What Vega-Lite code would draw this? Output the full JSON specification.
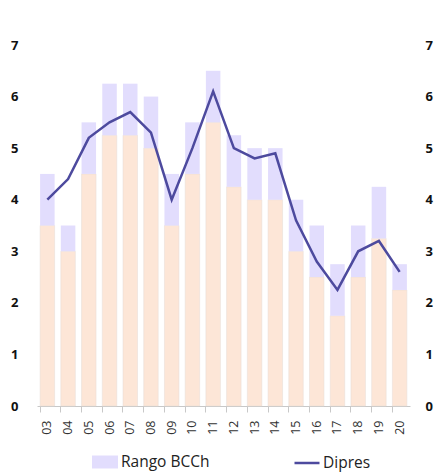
{
  "$schema": "https://vega.github.io/schema/vega-lite/v6.json",
  "autosize": "none",
  "width": 373,
  "height": 361,
  "padding": {"left": 37, "top": 45, "right": 26, "bottom": 66},
  "background": "white",
  "config": {
    "view": {"stroke": null},
    "font": "Open Sans",
    "axis": {"grid": false}
  },
  "data": {
    "values": [
      {"year": "03", "low": 3.5, "high": 4.5, "dipres": 4.0},
      {"year": "04", "low": 3.0, "high": 3.5, "dipres": 4.4},
      {"year": "05", "low": 4.5, "high": 5.5, "dipres": 5.2},
      {"year": "06", "low": 5.25, "high": 6.25, "dipres": 5.5},
      {"year": "07", "low": 5.25, "high": 6.25, "dipres": 5.7},
      {"year": "08", "low": 5.0, "high": 6.0, "dipres": 5.3},
      {"year": "09", "low": 3.5, "high": 4.5, "dipres": 4.0},
      {"year": "10", "low": 4.5, "high": 5.5, "dipres": 5.0},
      {"year": "11", "low": 5.5, "high": 6.5, "dipres": 6.1},
      {"year": "12", "low": 4.25, "high": 5.25, "dipres": 5.0},
      {"year": "13", "low": 4.0, "high": 5.0, "dipres": 4.8},
      {"year": "14", "low": 4.0, "high": 5.0, "dipres": 4.9},
      {"year": "15", "low": 3.0, "high": 4.0, "dipres": 3.6},
      {"year": "16", "low": 2.5, "high": 3.5, "dipres": 2.8},
      {"year": "17", "low": 1.75, "high": 2.75, "dipres": 2.25},
      {"year": "18", "low": 2.5, "high": 3.5, "dipres": 3.0},
      {"year": "19", "low": 3.25, "high": 4.25, "dipres": 3.2},
      {"year": "20", "low": 2.25, "high": 2.75, "dipres": 2.6}
    ]
  },
  "encoding": {
    "x": {
      "field": "year",
      "type": "ordinal",
      "sort": null,
      "scale": {"paddingInner": 0.3, "paddingOuter": 0.15},
      "axis": {
        "title": null,
        "labelAngle": -90,
        "labelFontSize": 12.5,
        "labelColor": "#333333",
        "labelPadding": 8,
        "domainColor": "#c8c8c8",
        "tickColor": "#c8c8c8",
        "tickSize": 6,
        "bandPosition": 0
      }
    }
  },
  "layer": [
    {
      "mark": {"type": "bar", "color": "#fde6d7", "stroke": "#e6dcd6", "strokeWidth": 0.5},
      "encoding": {
        "y": {
          "field": "low",
          "type": "quantitative",
          "scale": {"domain": [0, 7], "nice": false},
          "axis": {
            "title": null,
            "orient": "left",
            "values": [0, 1, 2, 3, 4, 5, 6, 7],
            "domain": false,
            "ticks": false,
            "labelFontSize": 13,
            "labelFontWeight": "bold",
            "labelColor": "#111111",
            "labelPadding": 19
          }
        }
      }
    },
    {
      "mark": {"type": "bar", "color": "#e2ddfd"},
      "encoding": {
        "y": {"field": "low", "type": "quantitative", "scale": {"domain": [0, 7], "nice": false}, "axis": null},
        "y2": {"field": "high"},
        "fill": {
          "datum": "Rango BCCh",
          "type": "nominal",
          "scale": {"range": ["#e2ddfd"]},
          "legend": {
            "title": null,
            "orient": "none",
            "legendX": 55,
            "legendY": 404,
            "symbolType": "M-1,-0.5H1V0.5H-1Z",
            "symbolSize": 676,
            "symbolStrokeWidth": 0,
            "labelFontSize": 15.5,
            "labelColor": "#222222",
            "labelOffset": 3
          }
        }
      }
    },
    {
      "mark": {"type": "line", "color": "#4d4a9e", "strokeWidth": 2.5},
      "encoding": {
        "y": {
          "field": "dipres",
          "type": "quantitative",
          "scale": {"domain": [0, 7], "nice": false},
          "axis": {
            "title": null,
            "orient": "right",
            "values": [0, 1, 2, 3, 4, 5, 6, 7],
            "domain": false,
            "ticks": false,
            "labelFontSize": 13,
            "labelFontWeight": "bold",
            "labelColor": "#111111",
            "labelPadding": 15
          }
        },
        "stroke": {
          "datum": "Dipres",
          "type": "nominal",
          "scale": {"range": ["#4d4a9e"]},
          "legend": {
            "title": null,
            "orient": "none",
            "legendX": 256,
            "legendY": 404,
            "symbolType": "stroke",
            "symbolSize": 625,
            "symbolStrokeWidth": 2.5,
            "labelFontSize": 15.5,
            "labelColor": "#222222",
            "labelOffset": 2
          }
        }
      }
    }
  ],
  "resolve": {"scale": {"y": "independent", "fill": "independent", "stroke": "independent"}}
}
